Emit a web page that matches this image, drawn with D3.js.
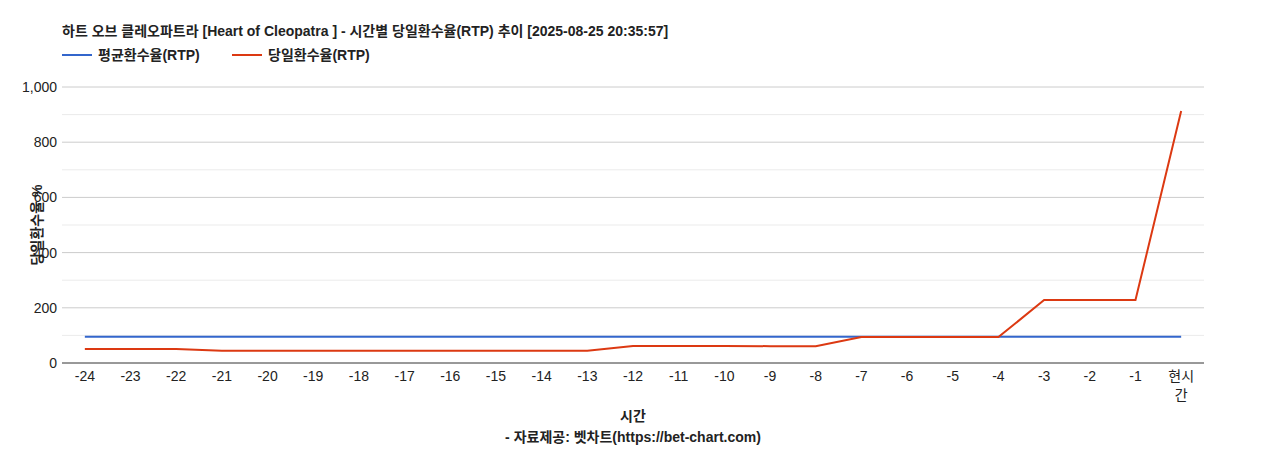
<!DOCTYPE html>
<html><head><meta charset="utf-8">
<script src="https://cdn.jsdelivr.net/npm/d3@7"></script>
<style>body{margin:0;background:#fff}svg{font-family:"Liberation Sans",Arial,"Noto Sans CJK KR",sans-serif}</style>
</head><body><svg id="c" width="1268" height="450"></svg>
<script>
const categories=["-24","-23","-22","-21","-20","-19","-18","-17","-16","-15","-14","-13","-12","-11","-10","-9","-8","-7","-6","-5","-4","-3","-2","-1","현시간"];
const avgRTP=[95,95,95,95,95,95,95,95,95,95,95,95,95,95,95,95,95,95,95,95,95,95,95,95,95];
const dayRTP=[51,51,51,44,44,44,44,44,44,44,44,44,62,62,62,61,61,94,94,94,94,228,228,228,913];
const yTicks=[0,200,400,600,800,1000];
const svg=d3.select("#c");
const L=62,R=1204,T=87,B=363;
const x=d3.scaleBand().domain(categories).range([L,R]);
const y=d3.scaleLinear().domain([0,1000]).range([B,T]);
const cx=d=>x(d)+x.bandwidth()/2;
d3.range(100,1001,100).forEach(v=>{svg.append("line").attr("x1",L).attr("x2",R).attr("y1",y(v)).attr("y2",y(v)).attr("stroke",v%200?"#ebebeb":"#cccccc")});
svg.append("line").attr("x1",L).attr("x2",R).attr("y1",B).attr("y2",B).attr("stroke","#333");
yTicks.forEach(v=>svg.append("text").attr("x",L-5).attr("y",y(v)+5).attr("text-anchor","end").attr("font-size",14).attr("fill","#222").text(d3.format(",")(v)));
categories.forEach(c=>{
  const t=svg.append("text").attr("x",cx(c)).attr("text-anchor","middle").attr("font-size",14).attr("fill","#222");
  if(c==="현시간"){t.append("tspan").attr("x",cx(c)).attr("y",381).text("현시");t.append("tspan").attr("x",cx(c)).attr("y",400).text("간");}
  else t.attr("y",381).text(c);
});
const line=d3.line().x((d,i)=>cx(categories[i])).y(d=>y(d));
svg.append("path").datum(avgRTP).attr("d",line).attr("fill","none").attr("stroke","#3366cc").attr("stroke-width",2);
svg.append("path").datum(dayRTP).attr("d",line).attr("fill","none").attr("stroke","#dc3912").attr("stroke-width",2);
svg.append("text").attr("x",62).attr("y",36).attr("font-size",14).attr("font-weight","bold").attr("fill","#222").text("하트 오브 클레오파트라 [Heart of Cleopatra ] - 시간별 당일환수율(RTP) 추이 [2025-08-25 20:35:57]");
[["평균환수율(RTP)","#3366cc",62],["당일환수율(RTP)","#dc3912",232]].forEach(([t,c,x0])=>{
  svg.append("line").attr("x1",x0).attr("x2",x0+30).attr("y1",55).attr("y2",55).attr("stroke",c).attr("stroke-width",2);
  svg.append("text").attr("x",x0+36).attr("y",60).attr("font-size",14).attr("font-weight","bold").attr("fill","#222").text(t);
});
svg.append("text").attr("transform","translate(42,225) rotate(-90)").attr("text-anchor","middle").attr("font-size",14).attr("font-weight","bold").attr("fill","#222").text("당일환수율 %");
svg.append("text").attr("x",633).attr("y",421).attr("text-anchor","middle").attr("font-size",14).attr("font-weight","bold").attr("fill","#222").text("시간");
svg.append("text").attr("x",633).attr("y",442).attr("text-anchor","middle").attr("font-size",14).attr("font-weight","bold").attr("fill","#222").text("- 자료제공: 벳차트(https://bet-chart.com)");
</script></body></html>
